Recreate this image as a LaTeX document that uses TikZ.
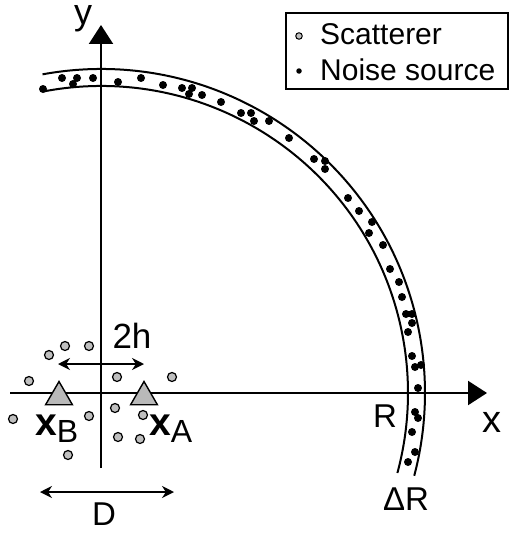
\documentclass[tikz,border=0pt]{standalone}
\usepackage{fontspec}
\setmainfont{Liberation Sans}
\usetikzlibrary{arrows.meta, shapes.geometric}

\begin{document}
\begin{tikzpicture}[
  x=1pt, y=-1pt,
  axis/.style={line width=2.2pt, -{Triangle[length=19pt, width=24pt]}},
  shell/.style={line width=2pt},
  dim/.style={line width=1.8pt, {Stealth[length=12pt, width=12pt]}-{Stealth[length=12pt, width=12pt]}},
  scat/.style={circle, draw, fill=gray!50, line width=1.2pt, minimum size=9pt, inner sep=0pt},
  noise/.style={circle, fill=black, minimum size=8pt, inner sep=0pt},
  sensor/.style={regular polygon, regular polygon sides=3, draw, fill=gray!55,
    line width=1.4pt, minimum size=31pt, inner sep=0pt},
  lbl/.style={font=\fontsize{33}{38}\selectfont, inner sep=0pt},
  biglbl/.style={font=\fontsize{38}{44}\selectfont, inner sep=0pt}
]
\useasboundingbox (0,0) rectangle (509,535);

% axes
\coordinate (o) at (101,393);
\coordinate (xl) at (10,393);
\coordinate (xr) at (487,393);
\coordinate (yb) at (101,468);
\coordinate (yt) at (101,25);
\draw[axis] (xl) -- (xr);
\draw[axis] (yb) -- (yt);
\node[biglbl, anchor=base] (xlab) at (492,432) {x};
\node[biglbl, font=\fontsize{36}{42}\selectfont, anchor=base] (ylab) at (83,25) {y};

% shell of noise sources
\draw[shell] (o) ++(-100.8:307) arc[start angle=-100.8, end angle=15.1, radius=307];
\draw[shell] (o) ++(-100.4:324) arc[start angle=-100.4, end angle=14.8, radius=324];
\foreach \x/\y [count=\i] in {43/89, 62/78, 77/78, 73/84, 93/78, 118/82, 141/78, 163/85,
    182/88, 192/88, 189/94, 202/95, 221/102, 241/113, 251/113, 254/121, 269/121,
    289/138, 314/159, 325/161, 325/169, 348/198, 359/211, 372/222, 369/233,
    383/245, 390/269, 399/282, 402/297, 406/314, 412/314, 412/323, 408/332,
    412/356, 415/367, 421/365, 418/388, 415/412, 418/418, 412/432, 415/452, 408/462}
  \node[noise] (n\i) at (\x,\y) {};
\node[lbl, anchor=base] (rlab) at (385,427) {R};
\node[lbl, anchor=base] (drlab) at (406,510) {ΔR};

% scatterers around the receivers
\foreach \x/\y [count=\i] in {65/346, 89/346, 49/355, 29/381, 117/377, 172/377, 13/419,
    89/416, 115/408, 143/415, 118/437, 140/439, 68/455}
  \node[scat] (s\i) at (\x,\y) {};

% receivers
\node[sensor] (xb) at (59,397) {};
\node[sensor] (xa) at (144,397) {};
\node[inner sep=0pt, anchor=base west] (xblab) at (35,435)
  {\fontsize{39}{44}\selectfont\bfseries x\raisebox{-7pt}{\fontsize{32}{36}\mdseries\selectfont B}};
\node[inner sep=0pt, anchor=base west] (xalab) at (149,435)
  {\fontsize{39}{44}\selectfont\bfseries x\raisebox{-7pt}{\fontsize{32}{36}\mdseries\selectfont A}};

% distances
\coordinate (hl) at (58,364);
\coordinate (hr) at (144,364);
\draw[dim] (hl) -- (hr);
\node[font=\fontsize{35}{40}\selectfont, inner sep=0pt, anchor=base] (hlab) at (132,348) {2h};
\coordinate (dl) at (40,492);
\coordinate (dr) at (174,492);
\draw[dim] (dl) -- (dr);
\node[lbl, anchor=base] (dlab) at (104,525) {D};

% legend
\draw[line width=2pt] (286,13) rectangle (508,89);
\node[scat, minimum size=6.5pt, line width=1pt] (ls) at (299,36) {};
\node[noise, minimum size=5.5pt] (ln) at (299,71) {};
\node[lbl, font=\fontsize{30}{36}\selectfont, anchor=base west] (lst) at (320,45) {Scatterer};
\node[lbl, font=\fontsize{30}{36}\selectfont, anchor=base west] (lnt) at (320,80) {Noise source};
\end{tikzpicture}
\end{document}
